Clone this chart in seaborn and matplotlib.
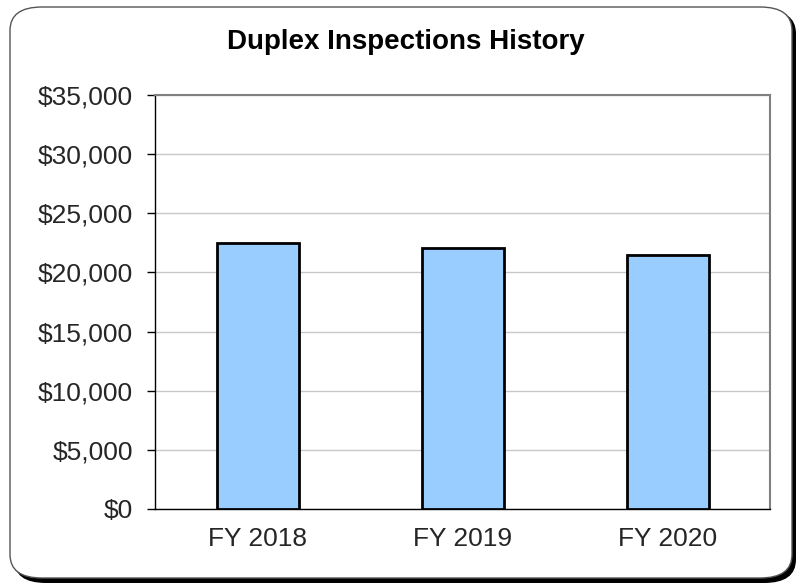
import matplotlib
matplotlib.use("Agg")
import matplotlib.pyplot as plt
import seaborn as sns
import pandas as pd
from matplotlib.patches import FancyBboxPatch
from matplotlib.ticker import FuncFormatter, MultipleLocator

categories = ["FY 2018", "FY 2019", "FY 2020"]
values = [22500, 22100, 21500]
title = "Duplex Inspections History"

sns.set_theme(style="white")
plt.rcParams['font.family'] = ['Liberation Sans', 'DejaVu Sans']

df = pd.DataFrame({"year": categories, "amount": values})

fig = plt.figure(figsize=(7.99, 5.85), dpi=100)
# rounded frame with shadow
shadow = FancyBboxPatch((14/799, 1-583/585), 782/799, 573/585,
                        boxstyle="round,pad=0,rounding_size=0.04",
                        transform=fig.transFigure, facecolor="black",
                        edgecolor="none", zorder=0)
frame = FancyBboxPatch((10/799, 1-578/585), 782/799, 571/585,
                       boxstyle="round,pad=0,rounding_size=0.04",
                       transform=fig.transFigure, facecolor="white",
                       edgecolor="#555555", linewidth=1.0, zorder=1)
fig.patches.extend([shadow, frame])

ax = fig.add_axes([155/799, 1-509/585, 615/799, 414/585])
ax.set_zorder(2)
sns.barplot(data=df, x="year", y="amount", ax=ax, color="#99CCFF",
            saturation=1, width=0.4, edgecolor="black", linewidth=2, zorder=3)

ax.set_ylim(0, 35000)
ax.set_xlim(-0.5, 2.5)
ax.yaxis.set_major_locator(MultipleLocator(5000))
ax.yaxis.set_major_formatter(FuncFormatter(lambda v, p: f"${v:,.0f}"))
ax.grid(axis="y", color="#C8C8C8", linewidth=1, zorder=0)
ax.set_axisbelow(True)
ax.set_xlabel("")
ax.set_ylabel("")

ax.set_xticks([0, 1, 2])
ax.set_xticklabels(categories)
ax.set_xticks([-0.5, 0.5, 1.5, 2.5], minor=True)
ax.tick_params(axis="x", which="major", length=0, pad=13, labelsize=19)
ax.tick_params(axis="x", which="minor", length=6, width=1, color="black", direction="out")
ax.tick_params(axis="y", length=6, width=1, color="black", direction="out", labelsize=19, pad=10, left=True)

for s in ["top", "right"]:
    ax.spines[s].set_color("#808080")
    ax.spines[s].set_linewidth(1.5)
for s in ["left", "bottom"]:
    ax.spines[s].set_color("black")
    ax.spines[s].set_linewidth(1.0)

fig.text(406/799, 1-42/585, title, ha="center", va="center",
         fontsize=20, fontweight="bold", color="black")

fig.savefig("out.png", dpi=100)
